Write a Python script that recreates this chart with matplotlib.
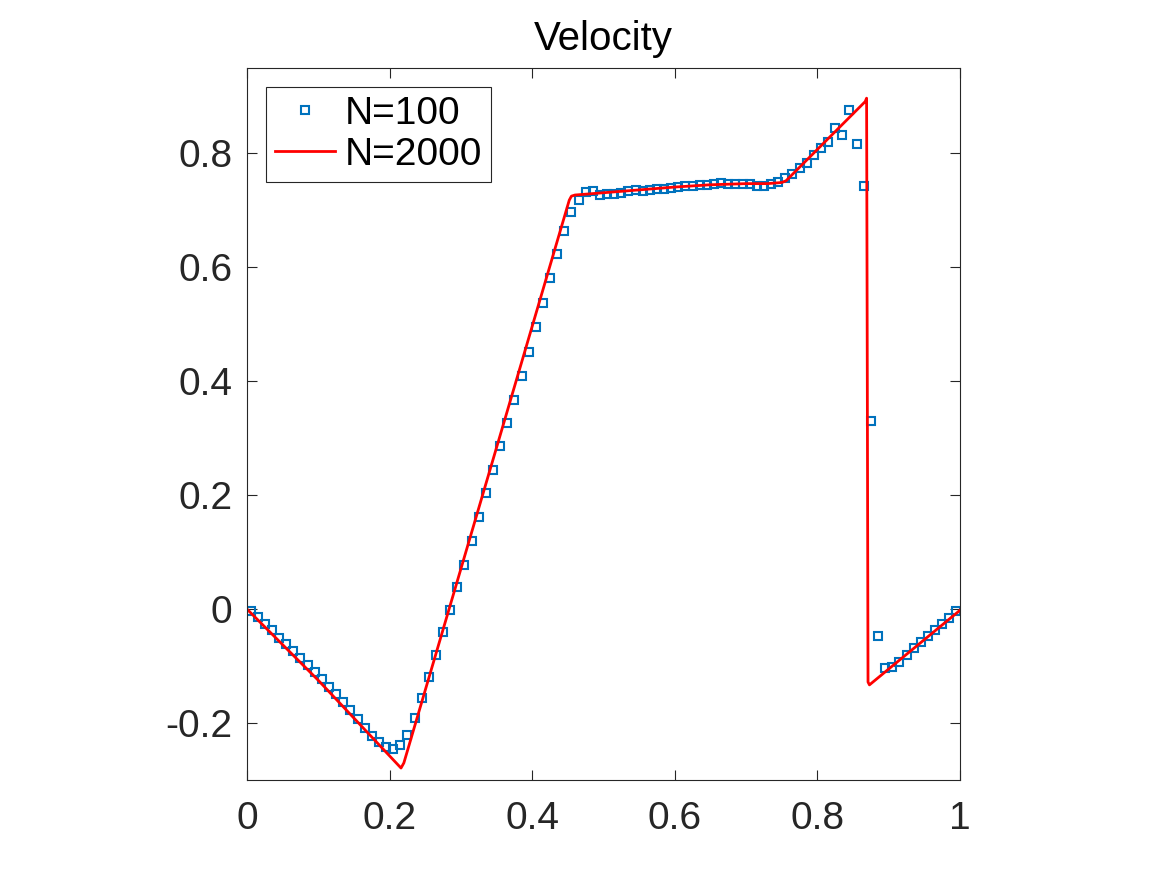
import numpy as np
import matplotlib
matplotlib.use('Agg')
import matplotlib.pyplot as plt

plt.rcParams['font.family'] = ['Liberation Sans', 'DejaVu Sans']

# N=100 cell centres and values
x100 = [0.005, 0.015, 0.025, 0.035, 0.045, 0.055, 0.065, 0.075, 0.085, 0.095,
        0.105, 0.115, 0.125, 0.135, 0.145, 0.155, 0.165, 0.175, 0.185, 0.195,
        0.205, 0.215, 0.225, 0.235, 0.245, 0.255, 0.265, 0.275, 0.285, 0.295,
        0.305, 0.315, 0.325, 0.335, 0.345, 0.355, 0.365, 0.375, 0.385, 0.395,
        0.405, 0.415, 0.425, 0.435, 0.445, 0.455, 0.465, 0.475, 0.485, 0.495,
        0.505, 0.515, 0.525, 0.535, 0.545, 0.555, 0.565, 0.575, 0.585, 0.595,
        0.605, 0.615, 0.625, 0.635, 0.645, 0.655, 0.665, 0.675, 0.685, 0.695,
        0.705, 0.715, 0.725, 0.735, 0.745, 0.755, 0.765, 0.775, 0.785, 0.795,
        0.805, 0.815, 0.825, 0.835, 0.845, 0.855, 0.865, 0.875, 0.885, 0.895,
        0.905, 0.915, 0.925, 0.935, 0.945, 0.955, 0.965, 0.975, 0.985, 0.995]
u100 = [-0.003, -0.0135, -0.026, -0.037, -0.050, -0.061, -0.073, -0.086, -0.098, -0.111,
        -0.123, -0.136, -0.149, -0.163, -0.177, -0.193, -0.208, -0.223, -0.234, -0.242,
        -0.245, -0.239, -0.221, -0.192, -0.156, -0.120, -0.081, -0.041, -0.002, 0.038,
        0.078, 0.120, 0.161, 0.203, 0.244, 0.286, 0.327, 0.368, 0.410, 0.452,
        0.495, 0.538, 0.582, 0.624, 0.664, 0.698, 0.719, 0.732, 0.734, 0.727,
        0.728, 0.729, 0.730, 0.734, 0.735, 0.734, 0.735, 0.738, 0.738, 0.740,
        0.741, 0.742, 0.743, 0.744, 0.745, 0.746, 0.748, 0.747, 0.747, 0.746,
        0.747, 0.743, 0.743, 0.747, 0.750, 0.757, 0.764, 0.774, 0.784, 0.797,
        0.809, 0.8205, 0.844, 0.832, 0.877, 0.817, 0.743, 0.330, -0.047, -0.104,
        -0.102, -0.092, -0.080, -0.069, -0.058, -0.047, -0.037, -0.027, -0.015, -0.0035]

x2000 = [0.0, 0.100, 0.213, 0.216, 0.220, 0.452, 0.455, 0.460, 0.50, 0.55, 0.60,
         0.65, 0.70, 0.73, 0.750, 0.756, 0.867, 0.869, 0.870, 0.871, 0.873, 1.0]
u2000 = [0.0, -0.125, -0.275, -0.279, -0.270, 0.718, 0.725, 0.727, 0.731, 0.736, 0.741,
         0.745, 0.747, 0.747, 0.749, 0.752, 0.891, 0.897, 0.40, -0.128, -0.133, -0.002]

fig = plt.figure(figsize=(11.67, 8.75), dpi=100)
ax = fig.add_axes([247/1167, 95/875, 713/1167, 712/875])

ax.plot(x100, u100, 's', color='#0072BD', mfc='none', ms=5.5, mew=1.5, label='N=100')
ax.plot(x2000, u2000, '-', color='red', lw=2, label='N=2000')

ax.set_xlim(0, 1)
ax.set_ylim(-0.3, 0.95)
ax.set_xticks([0, 0.2, 0.4, 0.6, 0.8, 1])
ax.set_xticklabels(['0', '0.2', '0.4', '0.6', '0.8', '1'])
ax.set_yticks([-0.2, 0, 0.2, 0.4, 0.6, 0.8])
ax.set_yticklabels(['-0.2', '0', '0.2', '0.4', '0.6', '0.8'])
ax.tick_params(direction='in', top=True, right=True, length=7, width=0.8,
               labelsize=28, colors='#262626')
ax.tick_params(axis='y', pad=10.5)
ax.tick_params(axis='x', pad=15)
for s in ax.spines.values():
    s.set_color('#262626'); s.set_linewidth(0.8)
ax.set_title('Velocity', fontsize=29, color='black', pad=13)

leg = ax.legend(loc='upper left', fontsize=28, fancybox=False, framealpha=1,
                edgecolor='#262626', handlelength=1.55, borderpad=0.22,
                labelspacing=0.13, handletextpad=0.25, borderaxespad=0.5)
leg.get_frame().set_linewidth(0.8)

plt.savefig('out.png', dpi=100)
